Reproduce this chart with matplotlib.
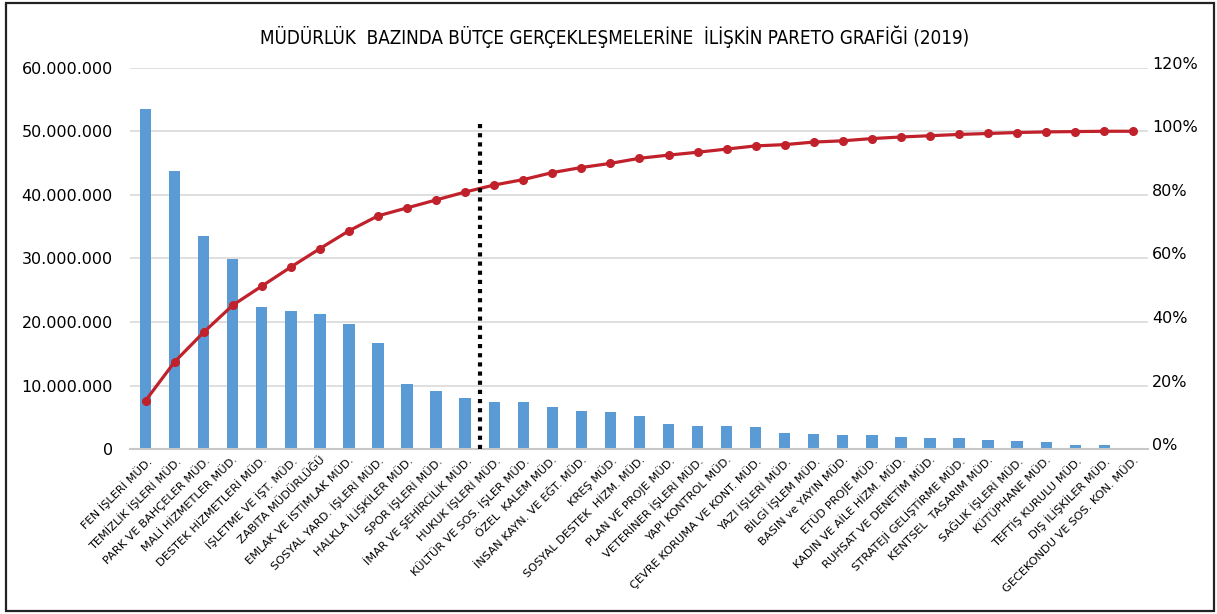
import matplotlib
matplotlib.use('Agg')
from matplotlib import pyplot as plt
from matplotlib.patches import Rectangle
from matplotlib.ticker import FuncFormatter
from matplotlib.transforms import ScaledTranslation

categories = [
    'FEN İŞLERİ MÜD.', 'TEMİZLİK İŞLERİ MÜD.', 'PARK VE BAHÇELER MÜD.',
    'MALİ HİZMETLER MÜD.', 'DESTEK HİZMETLERİ MÜD.', 'İŞLETME VE İŞT. MÜD.',
    'ZABITA MÜDÜRLÜĞÜ', 'EMLAK VE İSTİMLAK MÜD.', 'SOSYAL YARD. İŞLERİ MÜD.',
    'HALKLA İLİŞKİLER MÜD.', 'SPOR İŞLERİ MÜD.', 'İMAR VE ŞEHİRCİLİK MÜD.',
    'HUKUK İŞLERİ MÜD.', 'KÜLTÜR VE SOS. İŞLER MÜD.', 'ÖZEL  KALEM MÜD.',
    'İNSAN KAYN. VE EĞT. MÜD.', 'KREŞ MÜD.', 'SOSYAL DESTEK  HİZM. MÜD.',
    'PLAN VE PROJE MÜD.', 'VETERİNER İŞLERİ MÜD.', 'YAPI KONTROL MÜD.',
    'ÇEVRE KORUMA VE KONT. MÜD.', 'YAZI İŞLERİ MÜD.', 'BİLGİ İŞLEM MÜD.',
    'BASIN ve YAYIN MÜD.', 'ETÜD PROJE MÜD.', 'KADIN VE AİLE HİZM. MÜD.',
    'RUHSAT VE DENETİM MÜD.', 'STRATEJİ GELİŞTİRME MÜD.', 'KENTSEL  TASARIM MÜD.',
    'SAĞLIK İŞLERİ MÜD.', 'KÜTÜPHANE MÜD.', 'TEFTİŞ KURULU MÜD.',
    'DIŞ İLİŞKİLER MÜD.', 'GECEKONDU VE SOS. KON. MÜD.',
]

# budget realisation (TL)
budget = [
    53.5e6, 43.7e6, 33.6e6, 29.9e6, 22.3e6, 21.7e6, 21.2e6, 19.7e6, 16.7e6,
    10.2e6, 9.2e6, 8.1e6, 7.5e6, 7.5e6, 6.6e6, 6.0e6, 5.8e6, 5.2e6,
    3.9e6, 3.7e6, 3.7e6, 3.45e6, 2.55e6, 2.4e6, 2.2e6, 2.2e6, 1.95e6,
    1.75e6, 1.75e6, 1.5e6, 1.3e6, 1.1e6, 0.7e6, 0.7e6, 0.25e6,
]

# cumulative share (%)
cumulative = [
    15.3, 27.5, 36.8, 45.3, 51.3, 57.3, 63.1, 68.7, 73.4,
    75.9, 78.4, 80.9, 83.1, 84.8, 87.0, 88.6, 89.9, 91.5,
    92.5, 93.4, 94.4, 95.4, 95.8, 96.6, 97.0, 97.7, 98.2,
    98.6, 99.0, 99.3, 99.6, 99.8, 99.9, 100.0, 100.0,
]

left_ticks = [0, 10e6, 20e6, 30e6, 40e6, 50e6, 60e6]
right_ticks = [0, 20, 40, 60, 80, 100, 120]
cutoff_pos = 11.5

bar_color = '#5B9BD5'
line_color = '#C0212B'
grid_color = '#D9D9D9'


def dotted(v, pos):
    if v == 0:
        return '0'
    return f'{int(v):,}'.replace(',', '.')


def main():
    fig = plt.figure(figsize=(12.17, 6.14), dpi=100)
    ax = fig.add_axes([0.1065, 0.2683, 0.8367, 0.6215])
    ax2 = ax.twinx()

    x = list(range(len(categories)))
    ax.bar(x, budget, width=0.39, color=bar_color, zorder=2)
    ax.set_xlim(-0.55, len(categories) - 0.5)
    ax.set_ylim(0, 60e6)
    ax.set_yticks(left_ticks)
    ax.yaxis.set_major_formatter(FuncFormatter(dotted))
    ax.grid(axis='y', color=grid_color, linewidth=1.2, zorder=0)
    ax.set_axisbelow(True)
    for s in ['top', 'left', 'right']:
        ax.spines[s].set_visible(False)
    ax.spines['bottom'].set_color('#C8C8C8')
    ax.spines['bottom'].set_linewidth(1.5)
    ax.tick_params(axis='y', length=0, pad=12, labelsize=11.5)
    ax.tick_params(axis='x', length=0, pad=4)
    ax.set_xticks(x)
    ax.set_xticklabels(categories, rotation=45, ha='right',
                       rotation_mode='anchor', fontsize=8.2,
                       family='DejaVu Sans')

    ax2.plot(x, cumulative, color=line_color, linewidth=2.3,
             marker='o', markersize=5.5, zorder=4)
    ax2.set_ylim(0, 120)
    ax2.set_yticks(right_ticks)
    ax2.set_yticklabels([f'{t}%' for t in right_ticks])
    ax2.tick_params(axis='y', length=0, pad=3, labelsize=11.5)
    for s in ['top', 'left', 'right', 'bottom']:
        ax2.spines[s].set_visible(False)
    # right-hand labels sit a little above their gridlines
    lift = ScaledTranslation(0, 5 / 100, fig.dpi_scale_trans)
    for lbl in ax2.get_yticklabels():
        lbl.set_transform(lbl.get_transform() + lift)

    # 80% cut-off line
    ax2.vlines(cutoff_pos, 0, 104, colors='black', linestyles=(0, (1, 1.2)),
               linewidth=3, zorder=5)

    fig.text(0.505, 0.94, 'MÜDÜRLÜK  BAZINDA BÜTÇE GERÇEKLEŞMELERİNE  İLİŞKİN PARETO GRAFİĞİ (2019)',
             ha='center', va='center', fontsize=13.5, family='DejaVu Sans',
             fontstretch='condensed')

    fig.patches.append(Rectangle((6 / 1217, 3 / 614), 1208 / 1217, 608 / 614,
                                 transform=fig.transFigure, fill=False,
                                 edgecolor='#222222', linewidth=1.6))

    fig.savefig('out.png', dpi=100)


if __name__ == '__main__':
    main()
